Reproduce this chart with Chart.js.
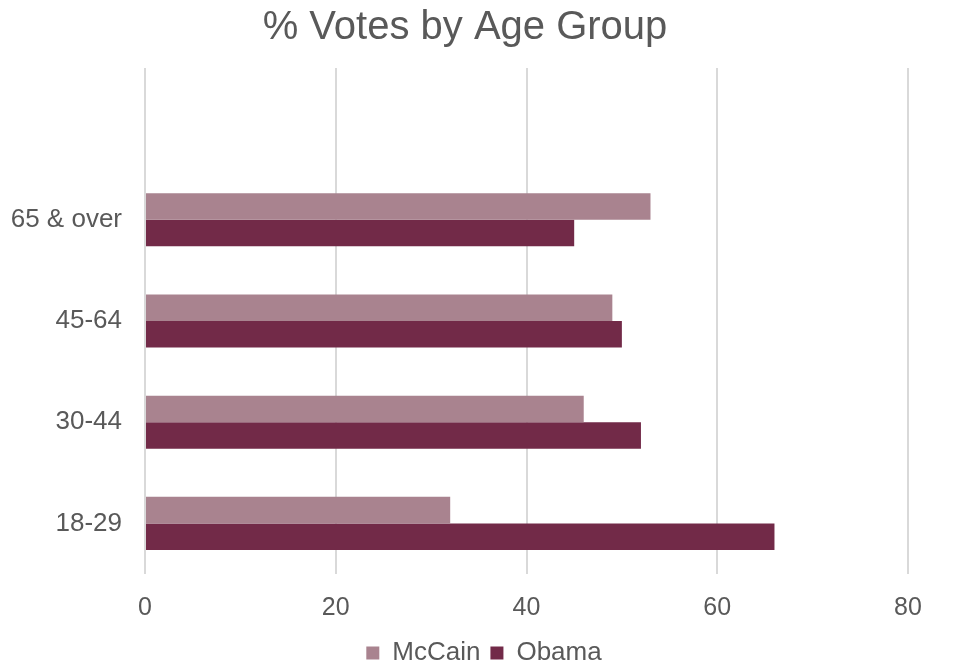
<!DOCTYPE html>
<html>
<head>
<meta charset="utf-8">
<script src="https://cdn.jsdelivr.net/npm/chart.js@4"></script>
<style>
  html, body { margin: 0; padding: 0; background: #fff; }
  #wrap { width: 968px; height: 663px; }
</style>
</head>
<body>
<div id="wrap"><canvas id="ageChart"></canvas></div>
<script>
// top row is left empty, as in the original
const ageGroups = ["", "65 & over", "45-64", "30-44", "18-29"];
const mccainVotes = [null, 53, 49, 46, 32];
const obamaVotes = [null, 45, 50, 52, 66];
const xTicks = [0, 20, 40, 60, 80];

const textColor = "#595959";
const fontFamily = "'Liberation Sans', Arial, sans-serif";

// title and legend are not centred on the same spot in the original
const nudgeBoxes = {
  id: "nudgeBoxes",
  afterLayout(chart) {
    if (chart.titleBlock) {
      chart.titleBlock.left = 0;
      chart.titleBlock.right = 930;
    }
    if (chart.legend) {
      chart.legend.left = 0;
      chart.legend.right = 968;
      chart.legend.top -= 12;
      chart.legend.bottom -= 12;
    }
  },
};

const ctx = document.getElementById("ageChart").getContext("2d");

new Chart(ctx, {
  type: "bar",
  data: {
    labels: ageGroups,
    datasets: [
      {
        label: "McCain",
        data: mccainVotes,
        backgroundColor: "#a9838f",
      },
      {
        label: "Obama",
        data: obamaVotes,
        backgroundColor: "#722a48",
      },
    ],
  },
  options: {
    indexAxis: "y",
    responsive: true,
    maintainAspectRatio: false,
    animation: false,
    layout: {
      padding: { left: 10, right: 60, top: 0, bottom: -25 },
    },
    datasets: {
      bar: { categoryPercentage: 0.525, barPercentage: 1.0 },
    },
    scales: {
      x: {
        min: xTicks[0],
        max: xTicks[xTicks.length - 1],
        afterBuildTicks: (axis) => {
          axis.ticks = xTicks.map((v) => ({ value: v }));
        },
        grid: { color: "#d9d9d9", lineWidth: 2, drawTicks: false },
        border: { display: false },
        ticks: {
          color: textColor,
          font: { family: fontFamily, size: 25 },
          padding: 19,
        },
      },
      y: {
        afterFit: (axis) => {
          axis.width = 135;
        },
        grid: { display: false },
        border: { display: false },
        ticks: {
          color: textColor,
          font: { family: fontFamily, size: 26 },
          padding: 15,
        },
      },
    },
    plugins: {
      title: {
        display: true,
        text: "% Votes by Age Group",
        color: textColor,
        font: { family: fontFamily, size: 40, weight: "normal" },
        padding: { top: 4, bottom: 16 },
      },
      legend: {
        position: "bottom",
        labels: {
          color: textColor,
          font: { family: fontFamily, size: 26, lineHeight: 1.0 },
          boxWidth: 13,
          boxHeight: 13,
          padding: 10,
        },
      },
      tooltip: { enabled: false },
    },
  },
  plugins: [nudgeBoxes],
});
</script>
</body>
</html>
